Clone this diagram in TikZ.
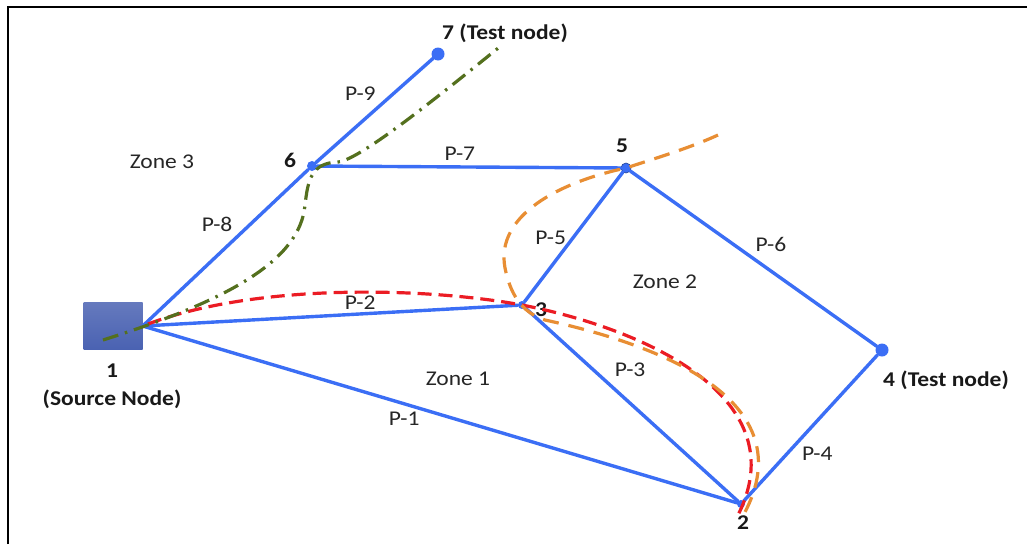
\documentclass[tikz,border=0pt]{standalone}
\usepackage{fontspec}
\setmainfont{Carlito}[FakeStretch=1.12]
\usepackage{tikz}
\usetikzlibrary{positioning,calc}
\definecolor{linkblue}{RGB}{59,110,245}
\definecolor{srcblue}{RGB}{74,98,178}
\definecolor{routered}{RGB}{235,28,36}
\definecolor{routeorange}{RGB}{232,142,52}
\definecolor{routegreen}{RGB}{84,112,30}

\begin{document}
\begin{tikzpicture}[x=1pt,y=-1pt,
  link/.style={draw=linkblue,line width=3.4pt,line cap=round},
  hub/.style={circle,fill=linkblue,inner sep=0pt,minimum size=#1},
  hub/.default=9pt,
  numlbl/.style={font=\fontsize{21}{28}\selectfont\bfseries,text=black!90},
  plbl/.style={font=\fontsize{21}{25}\selectfont,text=black!85,inner sep=3pt},
  route/.style={line width=3.2pt}
]
\useasboundingbox (0,0) rectangle (1027,544);
\draw[line width=2pt] (8,544) -- (8,7) -- (1027,7);

% nodes of the network
\node[rectangle,top color=srcblue!85!white,bottom color=srcblue,
      minimum width=59pt,minimum height=47pt,inner sep=0pt] (n1) at (113,326) {};
\node[hub=10pt] (n6) at (312,166) {};
\node[hub=13pt] (n7) at (438,54)  {};
\node[hub=10pt,draw=linkblue!60!black,line width=0.6pt] (n5) at (626,168) {};
\node[hub=8pt]  (n3) at (522,305) {};
\node[hub=13pt] (n4) at (882,350) {};
\node[hub=8pt]  (n2) at (741,504) {};

\node[numlbl,align=center] (t1) at (112,386) {1\\(Source Node)};
\node[numlbl] (t6) at (290,160) {6};
\node[numlbl] (t7) at (505,33)  {7 (Test node)};
\node[numlbl] (t5) at (622,146) {5};
\node[numlbl] (t3) at (541,310) {3};
\node[numlbl] (t4) at (946,380) {4 (Test node)};
\node[numlbl] (t2) at (743,523) {2};

\node[plbl] (z3) at (162,162) {Zone 3};
\node[plbl] (z2) at (665,282) {Zone 2};
\node[plbl] (z1) at (458,379) {Zone 1};

% pipes
\draw[link] (n1.east) -- node[plbl,pos=.57,anchor=south east]{P-8} (n6);
\draw[link] (n6) -- node[plbl,pos=.55,anchor=south east]{P-9} (n7);
\draw[link] (n6) -- node[plbl,pos=.47,anchor=south,inner sep=5pt]{P-7} (n5);
\draw[link] (n1.east) -- node[plbl,pos=.58,anchor=south]{P-2} (n3);
\draw[link] (n1.east) -- node[plbl,pos=.44,anchor=north,inner sep=6pt]{P-1} (n2);
\draw[link] (n3) -- node[plbl,pos=.49,anchor=east,inner sep=5pt]{P-5} (n5);
\draw[link] (n3) -- node[plbl,pos=.39,anchor=south west,inner sep=5pt]{P-3} (n2);
\draw[link] (n5) -- node[plbl,pos=.49,anchor=south west]{P-6} (n4);
\draw[link] (n2) -- node[plbl,pos=.4,anchor=north west]{P-4} (n4);

% routes
\coordinate (r0) at (148,324);
\coordinate (r1) at (737,517);
\draw[route,draw=routered,dash pattern=on 14pt off 7pt]
  (r0) .. controls (260,282) and (430,288) .. (n3.center)
       .. controls (650,330) and (798,400) .. (r1);

\coordinate (o0) at (718,135);
\coordinate (o1) at (744,514);
\draw[route,draw=routeorange,dash pattern=on 16pt off 10pt]
  (o0) .. controls (690,148) and (650,160) .. (n5.center)
       .. controls (560,182) and (495,215) .. (505,268)
       .. controls (510,292) and (520,312) .. (545,320)
       .. controls (660,345) and (805,400) .. (o1);

\coordinate (g0) at (103,340);
\coordinate (g1) at (502,45);
\draw[route,draw=routegreen,dash pattern=on 16pt off 7pt on 2.5pt off 7pt]
  (g0) .. controls (230,300) and (300,260) .. (305,205)
       .. controls (308,180) and (311,163) .. (338,162)
       .. controls (360,160) and (440,95) .. (g1);
\end{tikzpicture}
\end{document}
